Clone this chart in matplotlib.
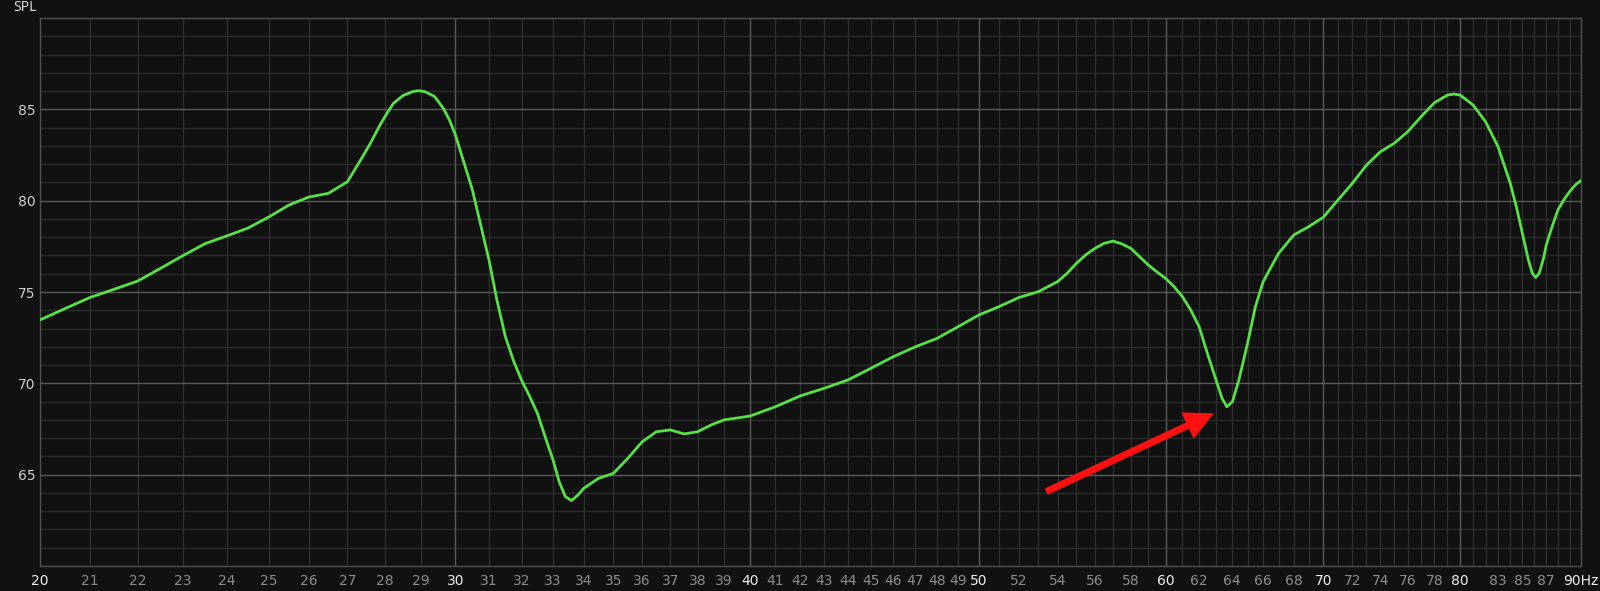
import matplotlib
matplotlib.use("Agg")
import matplotlib.pyplot as plt
from matplotlib.ticker import FixedLocator, NullFormatter

# frequency response (Hz, dB SPL)
freq = [20, 20.5, 21, 21.5, 22, 22.5, 23, 23.5, 24, 24.5, 25, 25.5, 26, 26.5, 27,
        27.34, 27.6, 27.87, 28.06, 28.24, 28.5, 28.77, 28.93, 29.12, 29.4, 29.65,
        29.83, 30, 30.5, 31, 31.24, 31.5, 31.76, 32, 32.26, 32.5, 32.78, 33, 33.2,
        33.4, 33.6, 33.82, 34, 34.5, 35, 35.5, 36, 36.5, 37, 37.5, 38, 38.5, 39,
        40, 41, 42, 43, 44, 45, 46, 47, 48, 49, 50, 51, 52, 53, 54, 54.5, 55, 55.5,
        56, 56.5, 57, 57.5, 58, 59, 59.5, 60, 60.5, 61, 61.5, 62, 62.5, 63, 63.4,
        63.7, 64.05, 64.45, 65, 65.5, 66, 67, 68, 69, 70, 71, 72, 73, 74, 75, 76,
        77, 78, 79, 79.5, 80, 81, 81.5, 82, 83, 83.5, 84, 84.5, 85, 85.5, 85.83,
        86.11, 86.4, 86.77, 87, 87.5, 88, 88.5, 89, 89.5, 90]
spl = [73.47, 74.1, 74.7, 75.15, 75.6, 76.3, 77.0, 77.65, 78.07, 78.5, 79.1, 79.76,
       80.2, 80.4, 81.04, 82.2, 83.1, 84.14, 84.78, 85.33, 85.75, 85.97, 86.02,
       85.97, 85.7, 85.05, 84.4, 83.6, 80.6, 76.75, 74.56, 72.55, 71.19, 70.18,
       69.27, 68.36, 66.9, 65.8, 64.6, 63.8, 63.58, 63.9, 64.25, 64.8, 65.07, 65.9,
       66.8, 67.35, 67.45, 67.23, 67.35, 67.72, 68.0, 68.21, 68.72, 69.31, 69.73,
       70.18, 70.82, 71.46, 72.0, 72.46, 73.1, 73.74, 74.2, 74.7, 75.02, 75.57,
       76.02, 76.57, 77.03, 77.39, 77.66, 77.79, 77.63, 77.39, 76.48, 76.1, 75.75,
       75.3, 74.74, 74.0, 73.1, 71.64, 70.27, 69.18, 68.72, 69.0, 70.18, 72.19,
       74.2, 75.57, 77.12, 78.12, 78.58, 79.1, 80.04, 80.95, 81.95, 82.68, 83.14,
       83.78, 84.6, 85.36, 85.78, 85.84, 85.78, 85.24, 84.78, 84.32, 82.96, 81.95,
       80.95, 79.67, 78.21, 76.75, 76.02, 75.8, 76.02, 76.84, 77.57, 78.58, 79.49,
       80.04, 80.49, 80.86, 81.1]

x_labels = list(range(20, 51)) + list(range(52, 81, 2)) + [83, 85, 87, 90]
bright_labels = [20, 30, 40, 50, 60, 70, 80, 90]
decades = [30, 40, 50, 60, 70, 80]
y_major = [65, 70, 75, 80, 85]

# arrow pointing at the dip (tail, tip) in Hz / dB
arrow_tail = (53.4, 64.07)
arrow_tip = (62.9, 68.36)

bg = "#111111"
fig = plt.figure(figsize=(16, 5.91), dpi=100, facecolor=bg)
ax = fig.add_axes([0.025, 0.0423, 0.9631, 0.9272], facecolor=bg)
plt.rcParams["font.family"] = ["Noto Sans", "DejaVu Sans"]

ax.set_xscale("log")
ax.set_xlim(20, 90)
ax.set_ylim(60, 90)

# grids
ax.xaxis.set_major_locator(FixedLocator(x_labels))
ax.xaxis.set_minor_locator(FixedLocator(list(range(20, 91))))
ax.xaxis.set_minor_formatter(NullFormatter())
ax.yaxis.set_major_locator(FixedLocator(y_major))
ax.yaxis.set_minor_locator(FixedLocator(list(range(60, 91))))
ax.grid(axis="x", which="both", color="#2e2e2e", linewidth=1.0)
ax.grid(axis="y", which="minor", color="#2b2b2b", linewidth=1.0)
ax.grid(axis="y", which="major", color="#5a5a5a", linewidth=1.0)
for d in decades:
    ax.axvline(d, color="#585858", linewidth=1.0, zorder=0.9)
ax.set_axisbelow(True)

for s in ax.spines.values():
    s.set_color("#505050")
    s.set_linewidth(1.0)

ax.tick_params(which="both", length=0)
ax.tick_params(axis="x", pad=6)
ax.tick_params(axis="y", pad=3, labelcolor="#cfcfcf", labelsize=10)
ax.set_xticklabels([("90Hz" if v == 90 else str(v)) for v in x_labels], fontsize=10)
for lab, v in zip(ax.get_xticklabels(), x_labels):
    lab.set_color("#eeeeee" if v in bright_labels else "#8c8c8c")

ax.plot(freq, spl, color="#58e048", linewidth=2.0, zorder=3,
        solid_capstyle="round", solid_joinstyle="round")

ax.annotate("", xy=arrow_tip, xytext=arrow_tail,
            arrowprops=dict(facecolor="#ff1010", edgecolor="none", width=5,
                            headwidth=21, headlength=21, shrink=0), zorder=4)

fig.text(0.0231, 0.987, "SPL", color="#d8d8d8", fontsize=10, ha="right", va="center")

fig.savefig("out.png", dpi=100, facecolor=bg)
